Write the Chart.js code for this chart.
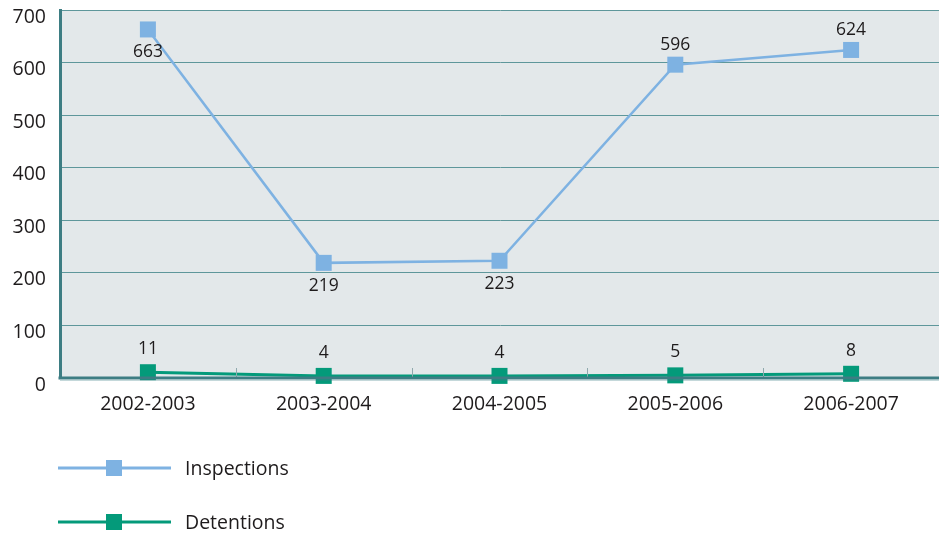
<!DOCTYPE html>
<html>
<head>
<meta charset="utf-8">
<script src="https://cdn.jsdelivr.net/npm/chart.js@4/dist/chart.umd.min.js"></script>
<style>
  html, body { margin: 0; padding: 0; background: #ffffff; }
  #wrap { width: 939px; height: 535px; }
</style>
</head>
<body>
<div id="wrap"><canvas id="c" width="939" height="535"></canvas></div>
<script>
// Fiscal years and yearly counts
const years = ['2002-2003', '2003-2004', '2004-2005', '2005-2006', '2006-2007'];
const inspections = [663, 219, 223, 596, 624];
const detentions = [11, 4, 4, 5, 8];
const yTicks = [0, 100, 200, 300, 400, 500, 600, 700];

const FONT = '"Open Sans", "Noto Sans", sans-serif';
const TEXT = '#1e1b1c';
const GRID = '#5e979b';
const AXIS = '#3d7d83';

// Shaded plot area, inner category ticks, value labels and the legend
const plotDecor = {
  id: 'plotDecor',
  beforeDraw(chart) {
    const { ctx, chartArea: a } = chart;
    ctx.save();
    ctx.fillStyle = '#e3e8ea';
    ctx.fillRect(a.left, a.top, a.right - a.left, a.bottom - a.top);
    ctx.restore();
  },
  afterDatasetsDraw(chart) {
    const { ctx, chartArea: a, scales } = chart;
    const x = scales.x;
    ctx.save();
    ctx.strokeStyle = '#8fa9ad';
    ctx.lineWidth = 1;
    for (let i = 1; i < years.length; i++) {
      const px = Math.round((x.getPixelForValue(i - 1) + x.getPixelForValue(i)) / 2) + 0.5;
      ctx.beginPath();
      ctx.moveTo(px, a.bottom - 10);
      ctx.lineTo(px, a.bottom);
      ctx.stroke();
    }
    ctx.restore();
  },
  afterDraw(chart) {
    const { ctx, chartArea: a } = chart;
    ctx.save();
    // bottom axis line
    ctx.strokeStyle = AXIS;
    ctx.lineWidth = 3;
    ctx.beginPath();
    ctx.moveTo(a.left - 1.5, a.bottom);
    ctx.lineTo(a.right, a.bottom);
    ctx.stroke();
    ctx.strokeStyle = 'rgba(61,125,131,0.3)';
    ctx.lineWidth = 1;
    ctx.beginPath();
    ctx.moveTo(a.left, a.bottom + 2.5);
    ctx.lineTo(a.right, a.bottom + 2.5);
    ctx.stroke();

    // value labels
    ctx.font = '17.5px ' + FONT;
    ctx.fillStyle = TEXT;
    ctx.textAlign = 'center';
    ctx.textBaseline = 'middle';
    chart.data.datasets.forEach((ds, di) => {
      const meta = chart.getDatasetMeta(di);
      meta.data.forEach((pt, i) => {
        const below = ds.labelBelow && ds.labelBelow[i];
        const y = below ? pt.y + 23 : pt.y - ds.labelGap;
        ctx.fillText(String(ds.data[i]), pt.x, y);
      });
    });

    // legend: line with square marker, then the series name
    const rows = [468, 522];
    chart.data.datasets.forEach((ds, di) => {
      const y = rows[di];
      ctx.strokeStyle = ds.borderColor;
      ctx.lineWidth = 3;
      ctx.beginPath();
      ctx.moveTo(58, y);
      ctx.lineTo(171, y);
      ctx.stroke();
      ctx.fillStyle = ds.pointBackgroundColor;
      ctx.fillRect(114 - 8, y - 8, 16, 16);
      ctx.fillStyle = TEXT;
      ctx.font = '19.5px ' + FONT;
      ctx.textAlign = 'left';
      ctx.fillText(ds.label, 185, y + 1);
    });
    ctx.restore();
  }
};

const squareRadius = 16 / Math.SQRT2;

new Chart(document.getElementById('c'), {
  type: 'line',
  data: {
    labels: years,
    datasets: [
      {
        label: 'Inspections',
        data: inspections,
        borderColor: '#7eb2e2',
        backgroundColor: '#7eb2e2',
        pointBackgroundColor: '#7eb2e2',
        pointBorderColor: '#7eb2e2',
        pointStyle: 'rect',
        pointRadius: squareRadius,
        pointBorderWidth: 0,
        borderWidth: 2.5,
        tension: 0,
        clip: false,
        labelGap: 20,
        labelBelow: [true, true, true, false, false]
      },
      {
        label: 'Detentions',
        data: detentions,
        borderColor: '#049a7a',
        backgroundColor: '#049a7a',
        pointBackgroundColor: '#049a7a',
        pointBorderColor: '#049a7a',
        pointStyle: 'rect',
        pointRadius: squareRadius,
        pointBorderWidth: 0,
        borderWidth: 3,
        tension: 0,
        clip: false,
        labelGap: 23,
        labelBelow: [false, false, false, false, false]
      }
    ]
  },
  options: {
    responsive: false,
    animation: false,
    layout: { autoPadding: false, padding: { top: 10, right: 0, left: 0, bottom: 0 } },
    plugins: {
      legend: { display: false },
      tooltip: { enabled: false }
    },
    scales: {
      x: {
        offset: true,
        grid: { display: false, drawTicks: false },
        border: { display: false },
        ticks: {
          color: TEXT,
          font: { family: FONT, size: 19.5 },
          padding: 15,
          maxRotation: 0
        },
        afterFit(scale) {
          scale.height = 157;
          scale.paddingLeft = 0;
          scale.paddingRight = 0;
        }
      },
      y: {
        min: 0,
        max: 700,
        afterBuildTicks(scale) { scale.ticks = yTicks.map(v => ({ value: v })); },
        grid: {
          color: (c) => (c.tick && c.tick.value === 0 ? 'rgba(0,0,0,0)' : GRID),
          lineWidth: 1,
          drawTicks: false
        },
        border: { display: true, color: AXIS, width: 3 },
        ticks: {
          color: TEXT,
          font: { family: FONT, size: 19.5 },
          padding: 14,
          labelOffset: 7
        },
        afterFit(scale) {
          scale.width = 60;
          scale.paddingTop = 0;
          scale.paddingBottom = 0;
        }
      }
    }
  },
  plugins: [plotDecor]
});
</script>
</body>
</html>
